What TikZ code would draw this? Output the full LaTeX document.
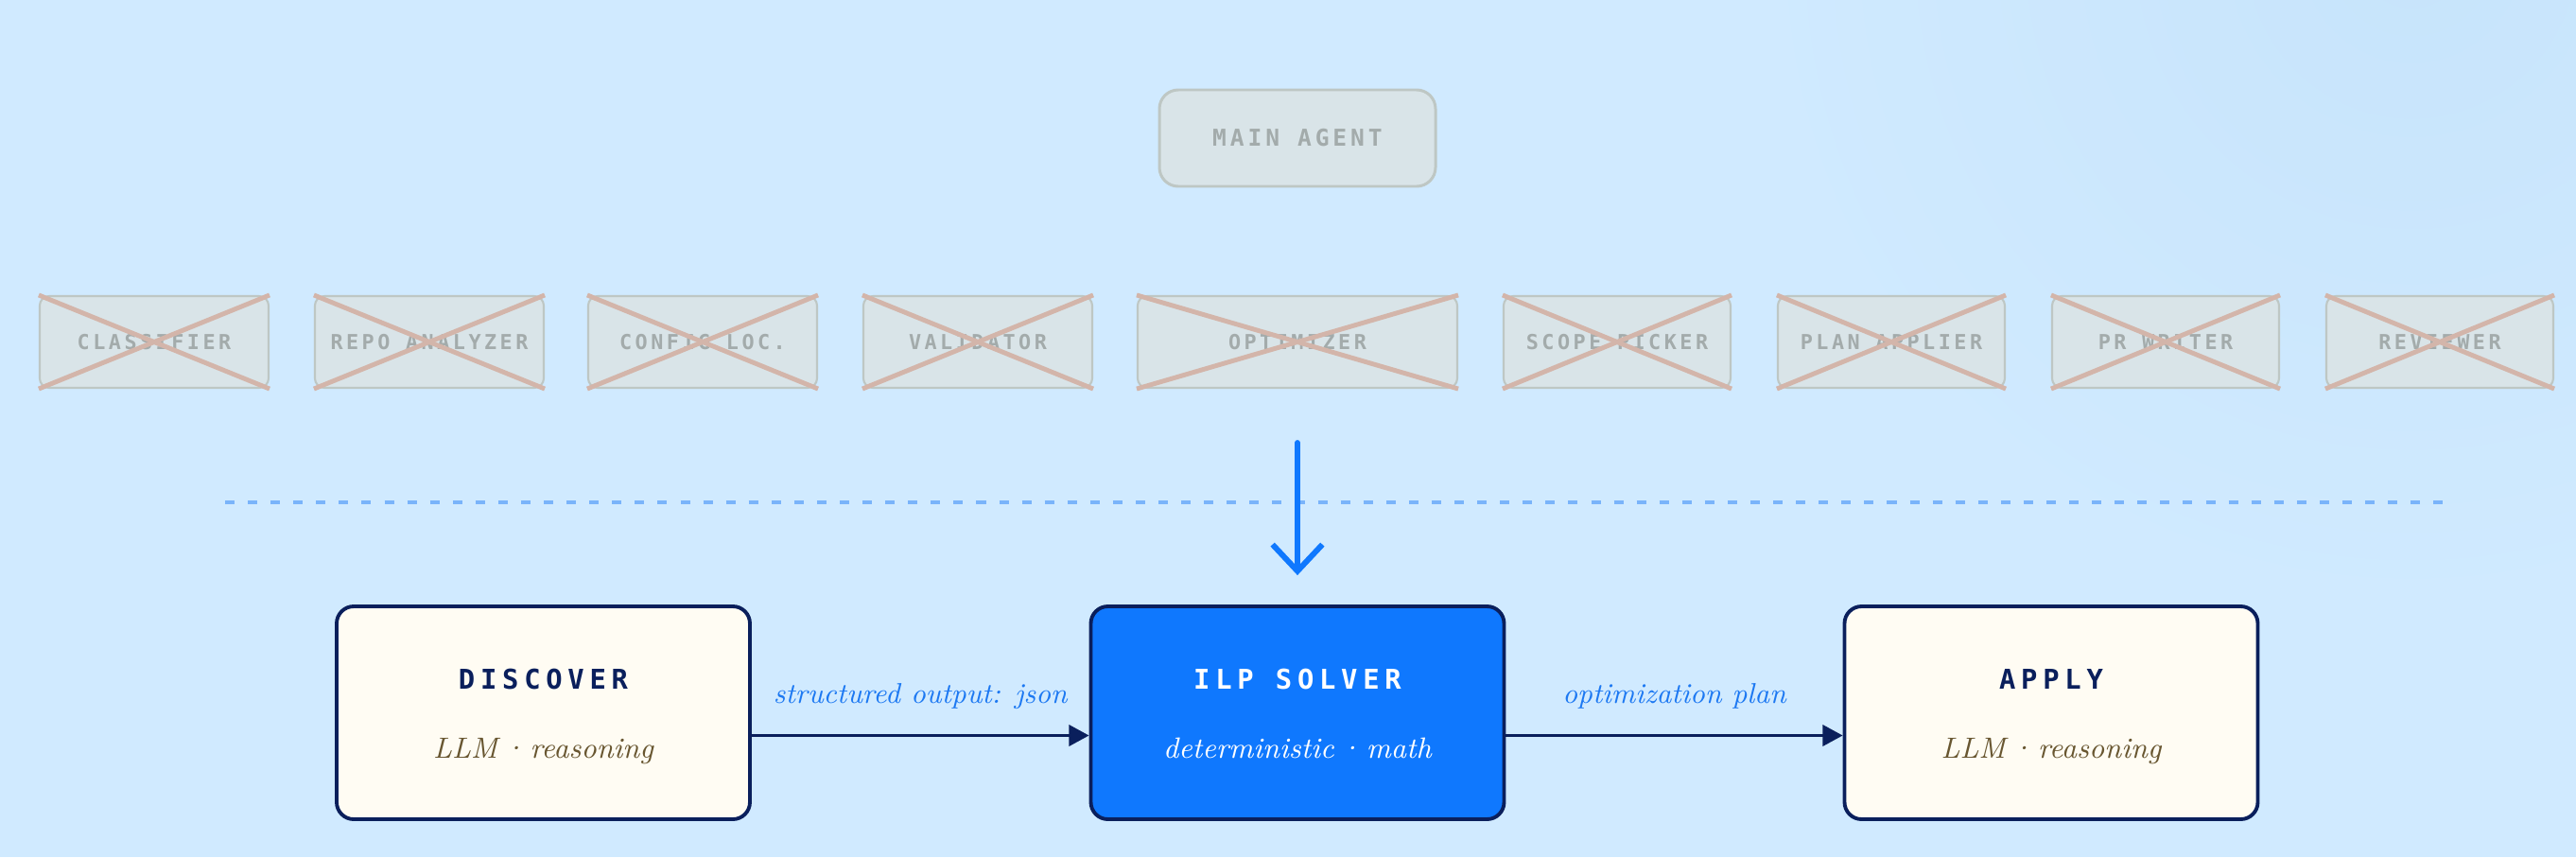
\documentclass[tikz,border=0pt]{standalone}
\usepackage{fontspec}
\usepackage{tikz}
\usetikzlibrary{arrows.meta, positioning, calc}

\definecolor{bgblue}{RGB}{208, 234, 255}
\definecolor{bgdeep}{RGB}{199, 228, 251}
\definecolor{navy}{RGB}{10, 31, 92}
\definecolor{solverblue}{RGB}{15, 120, 254}
\definecolor{cream}{RGB}{255, 252, 243}
\definecolor{earth}{RGB}{104, 86, 48}
\definecolor{linkblue}{RGB}{28, 120, 242}
\definecolor{dotblue}{RGB}{122, 180, 250}
\definecolor{agentfill}{RGB}{217, 228, 232}
\definecolor{agentedge}{RGB}{190, 199, 196}
\definecolor{agenttext}{RGB}{163, 171, 171}
\definecolor{crossred}{RGB}{211, 181, 170}

\newfontfamily\agentfont[LetterSpace=16]{DejaVu Sans Mono}
\newfontfamily\titlefont[LetterSpace=20]{DejaVu Sans Mono}
\newcommand{\middot}{\hspace{0.16em}·\hspace{0.16em}}

\begin{document}
\begin{tikzpicture}[
  agent/.style={draw=agentedge, fill=agentfill, line width=0.6pt, rounded corners=1mm,
    minimum height=0.97cm, inner sep=0pt, text=agenttext,
    font=\agentfont\bfseries\fontsize{6.2}{7}\selectfont},
  crossout/.style={crossred, line width=1.4pt},
  stage/.style={draw=navy, line width=1.1pt, rounded corners=1.8mm,
    minimum width=4.37cm, minimum height=2.25cm, inner sep=0pt},
  stagetitle/.style={anchor=base, text=navy, font=\titlefont\bfseries\fontsize{8.2}{10}\selectfont},
  stagesub/.style={anchor=base, text=earth, font=\itshape\fontsize{8.8}{10}\selectfont},
  flow/.style={navy, line width=0.85pt, -{Triangle[length=6pt, width=6.3pt]}},
  flowlabel/.style={anchor=base, yshift=0.34cm, text=linkblue, font=\itshape\fontsize{8.6}{10}\selectfont}
]
  % background, a little deeper towards the top right
  \fill[bgblue] (0, 0) rectangle (27.24, -9.06);
  \begin{scope}
    \clip (0, 0) rectangle (27.24, -9.06);
    \shade[inner color=bgdeep, outer color=bgblue] (25.5, 0.5) circle (7);
  \end{scope}

  % old setup: main agent and its sub-agents
  \node[agent, minimum width=2.92cm, minimum height=1.02cm, rounded corners=2mm, line width=0.85pt,
    font=\agentfont\bfseries\fontsize{7}{8}\selectfont] (main) at (13.72, -1.46) {MAIN AGENT};

  \foreach \nm/\x/\w/\lbl in {cls/1.63/2.42/CLASSIFIER, repo/4.54/2.42/REPO ANALYZER,
      cfg/7.43/2.42/CONFIG LOC., val/10.34/2.42/VALIDATOR, opt/13.72/3.38/OPTIMIZER,
      scope/17.10/2.40/SCOPE PICKER, plan/20.00/2.40/PLAN APPLIER,
      prw/22.90/2.40/PR WRITER, rev/25.80/2.40/REVIEWER} {
    \node[agent, minimum width=\w cm] (\nm) at (\x, -3.615) {\lbl};
    \draw[crossout] (\nm.north west) -- (\nm.south east);
    \draw[crossout] (\nm.south west) -- (\nm.north east);
  }

  % divider
  \draw[dotblue, line width=1.4pt, dash pattern=on 2.85pt off 4pt] (2.38, -5.31) -- (25.88, -5.31);

  % new pipeline
  \node[stage, fill=cream] (disc) at (5.745, -7.535) {};
  \node[stage, fill=solverblue] (ilp) at (13.72, -7.535) {};
  \node[stage, fill=cream] (app) at (21.69, -7.535) {};

  \node[stagetitle] at ($(disc.center)+(0, 0.25)$) {DISCOVER};
  \node[stagesub] at ($(disc.center)+(0, -0.475)$) {LLM\middot reasoning};
  \node[stagetitle, text=white] at ($(ilp.center)+(0, 0.25)$) {ILP SOLVER};
  \node[stagesub, text=white] at ($(ilp.center)+(0, -0.475)$) {deterministic\middot math};
  \node[stagetitle] at ($(app.center)+(0, 0.25)$) {APPLY};
  \node[stagesub] at ($(app.center)+(0, -0.475)$) {LLM\middot reasoning};

  % collapse arrow
  \draw[solverblue, line width=1.7pt, line cap=round,
    -{Straight Barb[length=8pt, width=15pt]}, shorten <=0.57cm, shorten >=0.31cm] (opt.south) -- (ilp.north);

  \draw[flow] ([yshift=-0.24cm]disc.east) -- ([yshift=-0.24cm]ilp.west)
    node[flowlabel, midway] {structured output: json};
  \draw[flow] ([yshift=-0.24cm]ilp.east) -- ([yshift=-0.24cm]app.west)
    node[flowlabel, midway] {optimization plan};
\end{tikzpicture}
\end{document}
